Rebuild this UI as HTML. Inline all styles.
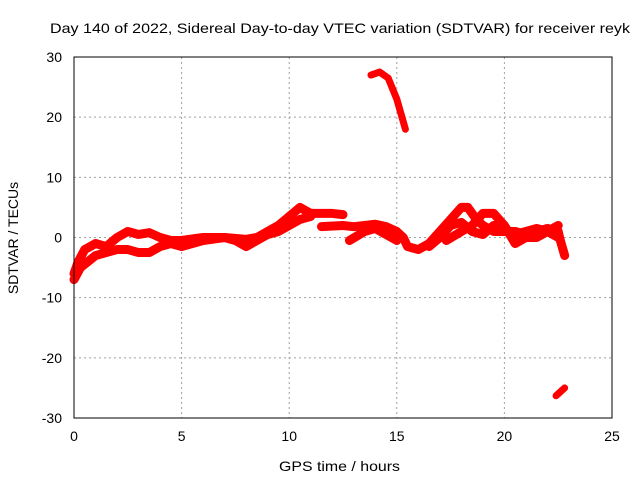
<!DOCTYPE html>
<html><head><meta charset="utf-8"><style>
body{margin:0;background:#fff;}
svg text{font-family:"Liberation Sans",sans-serif;font-size:14px;fill:#000;}
</style></head><body>
<svg id="chart" width="640" height="480">
<rect width="640" height="480" fill="#fff"/>
<text x="50" y="33" textLength="580" lengthAdjust="spacingAndGlyphs" font-size="15">Day 140 of 2022, Sidereal Day-to-day VTEC variation (SDTVAR) for receiver reyk</text>
<text x="279" y="471" textLength="121" lengthAdjust="spacingAndGlyphs" font-size="15">GPS time / hours</text>
<text transform="translate(18,238) rotate(-90)" text-anchor="middle">SDTVAR / TECUs</text>
<g id="grid"></g><g id="ticks"></g><g id="series"></g>
<rect x="74" y="57" width="538" height="361" fill="none" stroke="#000"/>
</svg>
<script>
const xTicks=[0,5,10,15,20,25];
const yTicks=[-30,-20,-10,0,10,20,30];
const trackA=[[0,-6],[0.2,-4],[0.5,-2],[1,-1],[1.5,-1.5],[2,0],[2.5,1],[3,0.5],[3.5,0.8],[4,0],[4.5,-0.5],[5,-0.5],[6,0],[7,0],[8,-0.3],[8.5,0],[9,1],[9.5,2],[10,3.5],[10.5,5],[11,4],[11.5,4],[12,4],[12.5,3.8]];
const trackB=[[0,-7],[0.3,-5],[1,-3],[1.5,-2.5],[2,-2],[2.5,-2],[3,-2.5],[3.5,-2.5],[4,-1.5],[4.5,-1],[5,-1.5],[6,-0.5],[7,0],[7.5,-0.5],[8,-1.5],[8.5,-0.5],[9,0.5],[9.5,1],[10,2],[10.5,3],[11,3.5]];
const trackC=[[11.5,1.8],[12.5,2],[13,1.8],[13.5,2],[14,2.2],[14.5,1.8],[15,1],[15.3,0],[15.5,-1.5],[16,-2],[16.5,-1],[17,1],[17.5,3],[18,5],[18.3,5],[18.7,3],[19,2],[19.5,1],[20,1],[20.5,1],[21,0.5],[21.5,1],[22,1.5],[22.5,1],[22.6,-0.5],[22.8,-3]];
const trackD=[[12.8,-0.5],[13.5,1],[14,1.5],[14.5,0.5],[15,-0.5]];
const trackE=[[16.5,-1.5],[17,0],[17.5,2],[18,2.5],[18.5,1],[19,0.5],[19.5,2],[20,1.5],[20.5,0.5],[21,1],[21.5,1.5],[22,1],[22.5,2]];
const trackF=[[17.3,-0.5],[18,1],[18.5,2],[19,4],[19.5,4],[20,2],[20.5,-1],[21,0],[21.5,0],[22,1],[22.5,0]];
const trackTop=[[13.8,27],[14.2,27.5],[14.6,26.5],[15,23],[15.4,18]];
const trackBottom=[[22.4,-26.3],[22.8,-25]];
const X=h=>74+h*538/25, Y=v=>237.5-v*361/60;
const NS="http://www.w3.org/2000/svg";
const grid=document.getElementById('grid'),ticks=document.getElementById('ticks'),ser=document.getElementById('series');
function mk(tag,a,p){const e=document.createElementNS(NS,tag);for(const k in a)e.setAttribute(k,a[k]);p.appendChild(e);return e;}
xTicks.forEach(t=>{const x=X(t);
 if(t>0&&t<25){const g=mk('line',{x1:x,x2:x,y1:57,y2:418,stroke:'#a0a0a0','stroke-dasharray':'2,3'},grid);
 }
 const l=mk('text',{x:x,y:441,'text-anchor':'middle'},ticks);l.textContent=t;
 });
yTicks.forEach(t=>{const y=Y(t);
 if(t>-30&&t<30){const g=mk('line',{x1:74,x2:612,y1:y,y2:y,stroke:'#a0a0a0','stroke-dasharray':'2,3'},grid);
 }
 const l=mk('text',{x:62,y:y+5,'text-anchor':'end'},ticks);l.textContent=t;
 });
[trackA,trackB,trackC,trackD,trackE,trackF,trackTop,trackBottom].forEach((tr,i)=>{
 const p=mk('polyline',{points:tr.map(d=>X(d[0])+','+Y(d[1])).join(' '),fill:'none',stroke:'#ff0000','stroke-width':i<6?9:7,'stroke-linejoin':'round','stroke-linecap':'round'},ser);
 
 
});
</script>
</body></html>
